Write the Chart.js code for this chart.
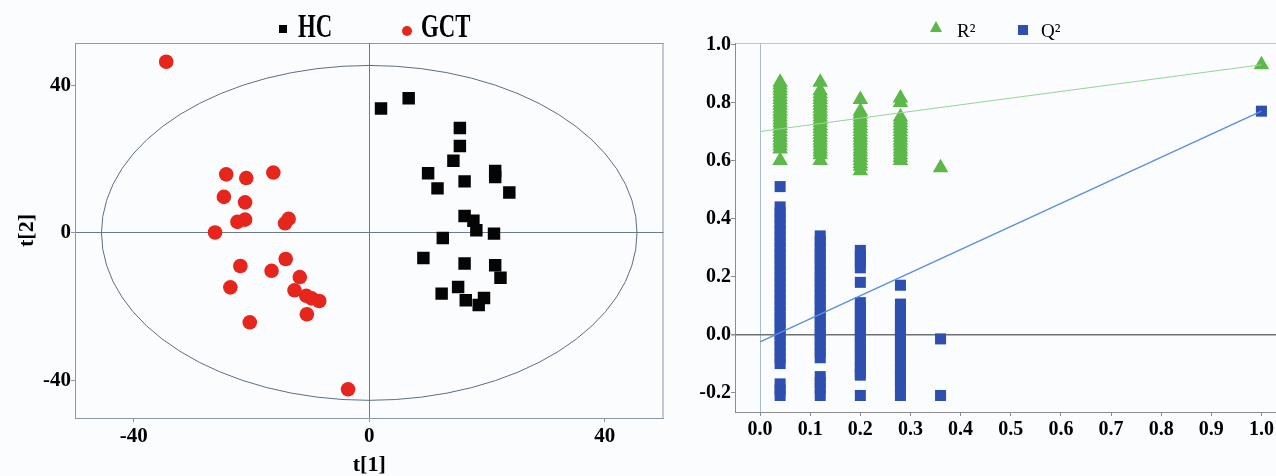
<!DOCTYPE html>
<html>
<head>
<meta charset="utf-8">
<script src="https://cdn.jsdelivr.net/npm/chart.js@4"></script>
<style>
  html, body { margin: 0; padding: 0; background: #fbfcfe; overflow: hidden; }
  .box { position: absolute; top: 0; height: 476px; }
  #left { left: 0; width: 680px; }
  #right { left: 680px; width: 616px; }
  .mk { position: absolute; }
  .lt { position: absolute; font-family: "Liberation Serif", "Times New Roman", serif; color: #000; white-space: nowrap; }
  .big { font-size: 34px; line-height: 34px; font-weight: bold; transform: scaleX(0.67); transform-origin: 0 0; }
  .small { font-size: 19px; line-height: 19px; }
</style>
</head>
<body>
<div class="box" id="left"><canvas id="score"></canvas></div>
<div class="box" id="right"><canvas id="perm"></canvas></div>

<div class="mk" style="left:279px;top:25px;width:8px;height:8px;background:#000"></div>
<span class="lt big" style="left:298px;top:9px">HC</span>
<div class="mk" style="left:402px;top:26px;width:10px;height:10px;border-radius:50%;background:#e6261c"></div>
<span class="lt big" style="left:421px;top:9px">GCT</span>

<div class="mk" style="left:930px;top:21px;width:12px;height:11px;background:#5cb848;clip-path:polygon(50% 0,100% 100%,0 100%)"></div>
<span class="lt small" style="left:957px;top:21px">R²</span>
<div class="mk" style="left:1018px;top:25px;width:10px;height:10px;background:#2d4fae"></div>
<span class="lt small" style="left:1041px;top:21px">Q²</span>

<script>
// score plot, t[1] vs t[2]
var hcT1 = [2.0, 6.7, 15.4, 15.4, 14.3, 10.0, 21.4, 21.4, 16.2, 11.6, 23.8, 16.2, 17.7, 18.2, 21.2, 12.5, 9.2, 16.2, 21.4, 22.3, 15.1, 12.3, 16.4, 19.5, 18.6];
var hcT2 = [33.8, 36.6, 28.5, 23.6, 19.6, 16.2, 16.8, 15.2, 14.0, 12.1, 11.0, 4.6, 3.3, 0.7, -0.2, -1.4, -6.8, -8.3, -8.8, -12.2, -14.7, -16.5, -18.3, -17.7, -19.6];
var gctT1 = [-34.5, -24.3, -20.9, -16.3, -24.7, -21.1, -22.4, -21.1, -13.7, -14.3, -26.2, -14.2, -21.9, -16.6, -11.8, -23.6, -12.7, -10.7, -9.8, -8.5, -10.6, -20.3, -3.6];
var gctT2 = [46.5, 15.9, 14.9, 16.4, 9.8, 8.3, 3.0, 3.6, 3.8, 2.6, 0.1, -7.1, -9.0, -10.3, -12.0, -14.8, -15.6, -17.1, -17.8, -18.5, -22.1, -24.3, -42.5];
var t2Ellipse = 45.5; // Hotelling T2 radius, same in t[1] and t[2]

// permutation test, x = correlation with original Y
var permCorr = [0.04, 0.12, 0.20, 0.28, 0.36];
var r2Perm = [
  [0.87, 0.86, 0.85, 0.84, 0.83, 0.82, 0.81, 0.80, 0.79, 0.78, 0.77, 0.76, 0.75, 0.74, 0.73, 0.72, 0.71, 0.70, 0.69, 0.68, 0.67, 0.66, 0.65, 0.64, 0.60],
  [0.87, 0.84, 0.83, 0.82, 0.81, 0.80, 0.79, 0.78, 0.77, 0.76, 0.75, 0.74, 0.73, 0.72, 0.71, 0.70, 0.69, 0.68, 0.67, 0.66, 0.65, 0.64, 0.63, 0.62, 0.60],
  [0.81, 0.77, 0.76, 0.75, 0.74, 0.73, 0.72, 0.71, 0.70, 0.69, 0.68, 0.67, 0.66, 0.65, 0.64, 0.63, 0.62, 0.61, 0.60, 0.59, 0.58, 0.565],
  [0.815, 0.80, 0.75, 0.74, 0.73, 0.72, 0.71, 0.70, 0.69, 0.68, 0.67, 0.66, 0.65, 0.64, 0.63, 0.62, 0.61, 0.60],
  [0.575]
];
var q2Perm = [
  [0.51, 0.44, 0.42, 0.40, 0.38, 0.36, 0.34, 0.32, 0.30, 0.28, 0.26, 0.24, 0.22, 0.20, 0.18, 0.16, 0.14, 0.12, 0.10, 0.08, 0.06, 0.04, 0.02, 0.00, -0.02, -0.04, -0.06, -0.08, -0.10, -0.17, -0.19, -0.21],
  [0.34, 0.32, 0.30, 0.28, 0.26, 0.24, 0.22, 0.20, 0.18, 0.16, 0.14, 0.12, 0.10, 0.08, 0.06, 0.04, 0.02, 0.00, -0.02, -0.04, -0.06, -0.08, -0.145, -0.165, -0.185, -0.21],
  [0.29, 0.27, 0.25, 0.23, 0.18, 0.11, 0.09, 0.07, 0.05, 0.03, 0.01, -0.01, -0.03, -0.05, -0.07, -0.09, -0.11, -0.13, -0.14, -0.21],
  [0.17, 0.105, 0.085, 0.065, 0.045, 0.025, 0.005, -0.015, -0.035, -0.055, -0.075, -0.095, -0.12, -0.14, -0.16, -0.18, -0.21],
  [-0.015, -0.21]
];
var origCorr = 1.0;
var r2Orig = 0.93;
var q2Orig = 0.77;
var r2Intercept = 0.70;
var q2Intercept = -0.025;

Chart.defaults.font.family = '"Liberation Serif", "Times New Roman", serif';
Chart.defaults.color = '#000';

function pairs(xs, ys) {
  return xs.map(function (v, i) { return {x: v, y: ys[i]}; });
}
function columns(xs, cols) {
  var pts = [];
  cols.forEach(function (col, i) {
    col.forEach(function (v) { pts.push({x: xs[i], y: v}); });
  });
  return pts;
}
function zeroOnly(color) {
  return function (ctx) { return ctx.tick && ctx.tick.value === 0 ? color : 'rgba(0,0,0,0)'; };
}

var ellipsePlugin = {
  id: 'ellipse',
  beforeDatasetsDraw: function (chart) {
    var sx = chart.scales.x, sy = chart.scales.y, ctx = chart.ctx;
    var cx = sx.getPixelForValue(0), cy = sy.getPixelForValue(0);
    var rx = sx.getPixelForValue(t2Ellipse) - cx;
    var ry = cy - sy.getPixelForValue(t2Ellipse);
    ctx.save();
    ctx.strokeStyle = '#5c6e80';
    ctx.lineWidth = 1;
    ctx.beginPath();
    ctx.ellipse(cx, cy, rx, ry, 0, 0, 2 * Math.PI);
    ctx.stroke();
    ctx.restore();
  }
};

var framePlugin = {
  id: 'frame',
  beforeDraw: function (chart, args, opts) {
    var a = chart.chartArea, ctx = chart.ctx;
    ctx.save();
    ctx.strokeStyle = opts.color;
    ctx.lineWidth = 1;
    ctx.beginPath();
    ctx.moveTo(a.left, a.top + 0.5);
    ctx.lineTo(a.right, a.top + 0.5);
    if (opts.right) {
      ctx.moveTo(a.right - 0.5, a.top);
      ctx.lineTo(a.right - 0.5, a.bottom);
    }
    ctx.stroke();
    ctx.restore();
  }
};

var tickFont = {size: 21, weight: 'bold'};

new Chart(document.getElementById('score'), {
  type: 'scatter',
  data: {
    datasets: [{
      label: 'HC',
      data: pairs(hcT1, hcT2),
      pointStyle: 'rect',
      pointRadius: 8.8,
      backgroundColor: '#050505',
      borderWidth: 0
    }, {
      label: 'GCT',
      data: pairs(gctT1, gctT2),
      pointStyle: 'circle',
      pointRadius: 7.3,
      backgroundColor: '#e6261c',
      borderWidth: 0
    }]
  },
  options: {
    responsive: true,
    maintainAspectRatio: false,
    animation: false,
    layout: {padding: {top: 43, right: 16.5, left: 0, bottom: 0}},
    plugins: {
      legend: {display: false},
      tooltip: {enabled: false},
      frame: {color: '#8a99a8', right: true}
    },
    scales: {
      x: {
        min: -50, max: 50,
        ticks: {stepSize: 40, includeBounds: false, font: tickFont, padding: 2},
        grid: {color: zeroOnly('#6b7b8b'), tickColor: '#8a99a8', tickLength: 4},
        border: {color: '#8a99a8'},
        title: {display: true, text: 't[1]', font: {size: 22, weight: 'bold', lineHeight: 1}, padding: 0},
        afterFit: function (s) { s.height = 58; }
      },
      y: {
        min: -50.3, max: 51.6,
        ticks: {stepSize: 40, includeBounds: false, font: tickFont, padding: 0},
        grid: {color: zeroOnly('#6b7b8b'), tickColor: '#8a99a8', tickLength: 4},
        border: {color: '#8a99a8'},
        title: {display: true, text: 't[2]', font: {size: 22, weight: 'bold', lineHeight: 1}, padding: {top: 16, bottom: 0}},
        afterFit: function (s) { s.width = 75; }
      }
    }
  },
  plugins: [framePlugin, ellipsePlugin]
});

// the plot runs off the right edge of the figure, as in the original
new Chart(document.getElementById('perm'), {
  type: 'scatter',
  data: {
    datasets: [{
      label: 'R2 fit',
      type: 'line',
      data: [{x: 0, y: r2Intercept}, {x: origCorr, y: r2Orig}],
      borderColor: '#98d498',
      borderWidth: 1.2,
      pointRadius: 0,
      order: 0
    }, {
      label: 'Q2 fit',
      type: 'line',
      data: [{x: 0, y: q2Intercept}, {x: origCorr, y: q2Orig}],
      borderColor: '#5a8ee0',
      borderWidth: 1.4,
      pointRadius: 0,
      order: 0
    }, {
      label: 'R²',
      data: columns(permCorr, r2Perm).concat([{x: origCorr, y: r2Orig}]),
      pointStyle: 'triangle',
      pointRadius: 9,
      backgroundColor: '#5cb848',
      borderWidth: 0,
      order: 1
    }, {
      label: 'Q²',
      data: columns(permCorr, q2Perm).concat([{x: origCorr, y: q2Orig}]),
      pointStyle: 'rect',
      pointRadius: 7.8,
      backgroundColor: '#2d4fae',
      borderWidth: 0,
      order: 1
    }]
  },
  options: {
    responsive: true,
    maintainAspectRatio: false,
    animation: false,
    layout: {padding: {top: 43, right: 0, left: 0, bottom: 0}},
    plugins: {
      legend: {display: false},
      tooltip: {enabled: false},
      frame: {color: '#b4c8d8', right: false}
    },
    scales: {
      x: {
        min: -0.05, max: 1.051,
        ticks: {stepSize: 0.1, includeBounds: false, maxTicksLimit: 20, font: {size: 20, weight: 'bold'}, padding: 2,
          callback: function (v) { return v.toFixed(1); }},
        grid: {color: zeroOnly('#a9bccc'), tickColor: '#8c8c8c', tickLength: 4},
        border: {color: '#8c8c8c'},
        afterFit: function (s) { s.height = 64; }
      },
      y: {
        min: -0.267, max: 1.005,
        ticks: {stepSize: 0.2, includeBounds: false, font: {size: 20, weight: 'bold'}, padding: 0,
          callback: function (v) { return v.toFixed(1); }},
        grid: {color: zeroOnly('#707070'), lineWidth: function (c) { return c.tick && c.tick.value === 0 ? 1.5 : 1; }, tickColor: '#8c8c8c', tickLength: 4},
        border: {color: '#8c8c8c'},
        afterFit: function (s) { s.width = 55; }
      }
    }
  },
  plugins: [framePlugin]
});
</script>
</body>
</html>
